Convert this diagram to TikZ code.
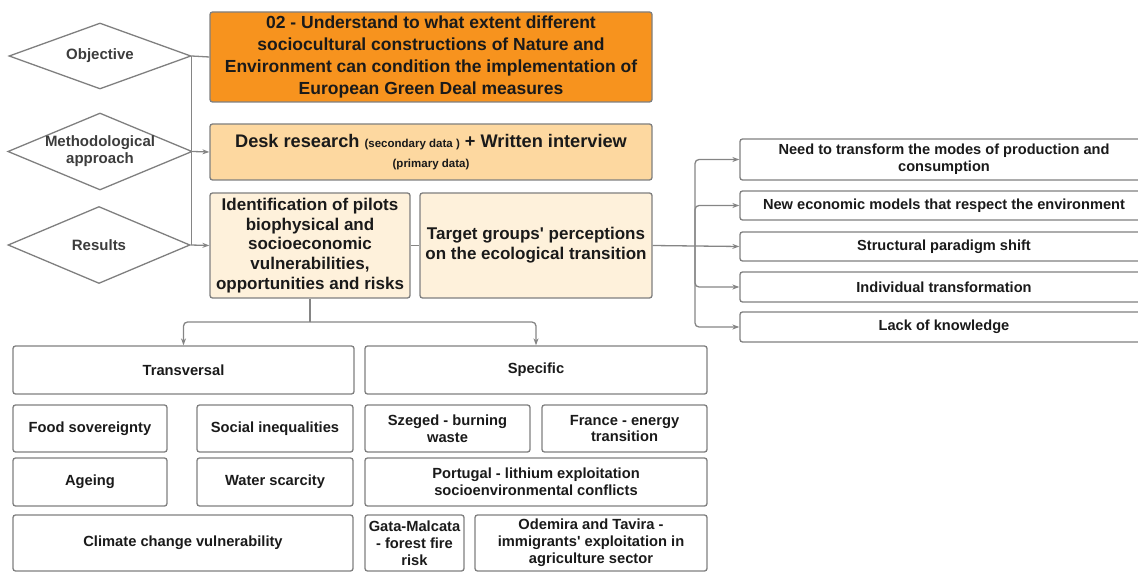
\documentclass[tikz,border=0pt]{standalone}
\usepackage{fontspec}
\setmainfont{Liberation Sans}
\newfontfamily\nf{Liberation Sans}
\usetikzlibrary{shapes.geometric,arrows.meta}
\definecolor{bord}{HTML}{7F7F7F}
\definecolor{lin}{HTML}{858585}
\definecolor{orangeF}{HTML}{F7931E}
\definecolor{deskF}{HTML}{FDD8A0}
\definecolor{creamF}{HTML}{FEF1DB}
\definecolor{txt}{HTML}{1A1A1A}
\definecolor{dtxt}{HTML}{3C3C3C}
\tikzset{
  bx/.style={draw=bord, line width=1.3pt, rounded corners=2.5pt, inner sep=2pt, align=center, text=txt, font=\nf\bfseries},
  dia/.style={diamond, draw=bord, line width=1.3pt, inner sep=0pt, shape aspect=2.4, align=center, text=dtxt, font=\nf\bfseries\fontsize{15}{17}\selectfont},
  conn/.style={draw=lin, line width=1.3pt},
  arr/.style={conn, -{Stealth[length=7pt,width=5pt]}},
  rbox/.style={bx, font=\bfseries\fontsize{14.6}{17}\selectfont},
  bbox/.style={bx, font=\nf\bfseries\fontsize{14.7}{16.8}\selectfont},
}
\begin{document}
\begin{tikzpicture}[x=1pt,y=-1pt]
\useasboundingbox (0,0) rectangle (1138,572);
\clip (0,0) rectangle (1138,572);
% diamonds
\node[dia, minimum width=182, minimum height=66] (obj) at (100,56) {Objective};
\node[dia, minimum width=180, minimum height=77] (meth) at (100,151.5) {Methodological\\approach};
\node[dia, minimum width=182, minimum height=77] (res) at (99,245) {Results};
% top boxes
\node[bx, fill=orangeF, minimum width=442, minimum height=90, font=\nf\bfseries\fontsize{17.5}{21.7}\selectfont] (goal) at (431,57)
  {02 - Understand to what extent different\\sociocultural constructions of Nature and\\Environment can condition the implementation of\\European Green Deal measures};
\node[bx, fill=deskF, minimum width=442, minimum height=56, font=\nf\bfseries\fontsize{18.2}{19.5}\selectfont] (desk) at (431,152)
  {Desk research {\fontsize{11.5}{13}\selectfont (secondary data )} + Written interview\\{\fontsize{11.5}{13}\selectfont (primary data)}};
\node[bx, fill=creamF, minimum width=200, minimum height=105, font=\nf\bfseries\fontsize{17}{19.7}\selectfont] (ident) at (310,245.5)
  {Identification of pilots\\biophysical and\\socioeconomic\\vulnerabilities,\\opportunities and risks};
\node[bx, fill=creamF, minimum width=232, minimum height=105, font=\nf\bfseries\fontsize{17}{20}\selectfont] (target) at (536,245.5)
  {Target groups' perceptions\\on the ecological transition};
% right boxes
\node[rbox, minimum width=408, minimum height=41] (r1) at (944,159.5) {Need to transform the modes of production and\\consumption};
\node[rbox, minimum width=408, minimum height=29] (r2) at (944,205.5) {New economic models that respect the environment};
\node[rbox, minimum width=408, minimum height=29] (r3) at (944,246.5) {Structural paradigm shift};
\node[rbox, minimum width=408, minimum height=30] (r4) at (944,287) {Individual transformation};
\node[rbox, minimum width=408, minimum height=30] (r5) at (944,327) {Lack of knowledge};
% bottom boxes
\node[bbox, minimum width=341, minimum height=48] (trans) at (183.5,370) {Transversal};
\node[bbox, minimum width=342, minimum height=48] (spec) at (536,370) {Specific};
\node[bbox, minimum width=154, minimum height=47] (food) at (90,428.5) {Food sovereignty};
\node[bbox, minimum width=156, minimum height=47] (social) at (275,428.5) {Social inequalities};
\node[bbox, minimum width=165, minimum height=47] (szeged) at (447.5,428.5) {Szeged - burning\\waste};
\node[bbox, minimum width=165, minimum height=47] (france) at (624.5,428.5) {France - energy\\transition};
\node[bbox, minimum width=154, minimum height=48] (age) at (90,482) {Ageing};
\node[bbox, minimum width=156, minimum height=48] (water) at (275,482) {Water scarcity};
\node[bbox, minimum width=342, minimum height=48] (port) at (536,482) {Portugal - lithium exploitation\\socioenvironmental conflicts};
\node[bbox, minimum width=340, minimum height=56] (clim) at (183,543) {Climate change vulnerability};
\node[bbox, minimum width=99, minimum height=56, inner sep=1pt] (gata) at (414.5,543) {Gata-Malcata\\- forest fire\\risk};
\node[bbox, minimum width=232, minimum height=56] (odem) at (591,543) {Odemira and Tavira -\\immigrants' exploitation in\\agriculture sector};
% connectors left
\draw[conn] (obj.east) -- (goal.west);
\draw[conn] (obj.east) -- (obj.east |- res.east);
\draw[arr] (meth.east) -- (desk.west);
\draw[arr] (res.east) -- (ident.west);
\draw[conn] (ident.east) -- (target.west);
% right fan
\coordinate (jR) at (695,246);
\draw[conn] (target.east) -- (jR);
\draw[arr, rounded corners=4pt] (jR) |- (r1.west);
\draw[arr, rounded corners=4pt] (jR) |- (r2.west);
\draw[arr] (jR) -- (r3.west);
\draw[arr, rounded corners=4pt] (jR) |- (r4.west);
\draw[arr, rounded corners=4pt] (jR) |- (r5.west);
% bottom fan
\coordinate (jB) at (310,322);
\draw[conn] (ident.south) -- (jB);
\draw[arr, rounded corners=4pt] (jB) -| (trans.north);
\draw[arr, rounded corners=4pt] (jB) -| (spec.north);
\end{tikzpicture}
\end{document}
